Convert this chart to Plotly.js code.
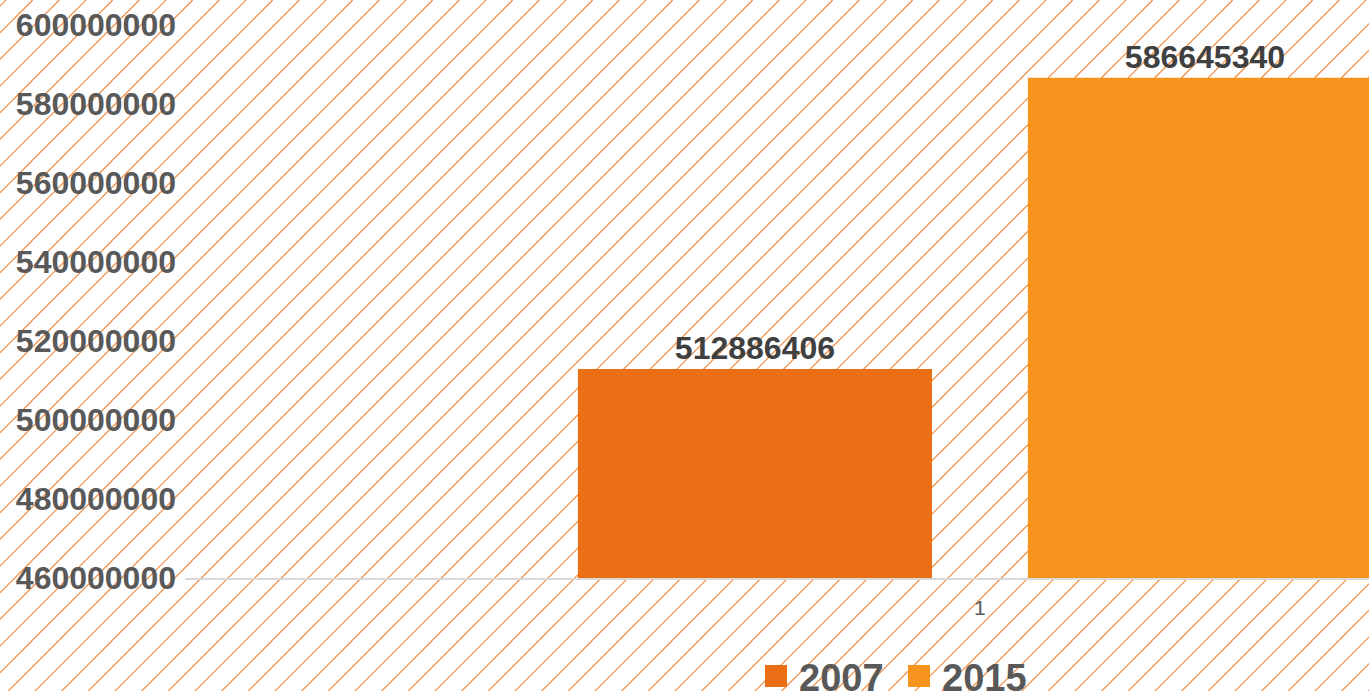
<!DOCTYPE html>
<html>
<head>
<meta charset="utf-8">
<script src="https://cdn.plot.ly/plotly-3.0.1.min.js"></script>
<style>
  html, body { margin: 0; padding: 0; width: 1369px; height: 691px; overflow: hidden; background-color: #ffffff; }
  #chart { width: 1369px; height: 691px; }
</style>
</head>
<body>
<div id="chart"></div>
<script>
// Data
const categories = ["1"];
const seriesNames = ["2007", "2015"];
const values2007 = [512886406];
const values2015 = [586645340];
const seriesColors = ["#EB7015", "#F7941D"];
const yTickValues = [460000000, 480000000, 500000000, 520000000, 540000000, 560000000, 580000000, 600000000];

const seriesValues = [values2007, values2015];

// Diagonal hatch background (decoration) as an SVG tile
(function () {
  const s = 80, step = 80 / 3;
  let lines = '';
  for (let k = -3; k <= 3; k++) {
    const x0 = k * step;
    lines += '<line x1="' + x0 + '" y1="' + s + '" x2="' + (x0 + s) + '" y2="0"/>';
  }
  const svg = '<svg xmlns="http://www.w3.org/2000/svg" width="' + s + '" height="' + s + '">' +
    '<g stroke="#EF8232" stroke-width="1.1" fill="none">' + lines + '</g></svg>';
  document.body.style.backgroundImage = 'url("data:image/svg+xml,' + encodeURIComponent(svg) + '")';
  document.body.style.backgroundPosition = '6px 0px';
})();

const FONT = 'Liberation Sans, Arial, sans-serif';

const traces = seriesNames.map((name, i) => ({
  type: 'bar',
  name: name,
  x: categories,
  y: seriesValues[i],
  marker: { color: seriesColors[i] },
  text: seriesValues[i].map(v => String(v)),
  textposition: 'outside',
  textfont: { family: FONT, size: 32, color: '#404040', weight: 'bold' },
  cliponaxis: false,
  constraintext: 'none',
  showlegend: false,
  hoverinfo: 'none'
}));

// Custom legend: coloured squares + series names
const legendSquareX = [0.4992, 0.6199];
const legendTextX = [0.5169, 0.6377];
const annotations = [];
seriesNames.forEach((name, i) => {
  annotations.push({
    xref: 'paper', yref: 'paper',
    x: legendSquareX[i], y: -0.1772,
    xanchor: 'center', yanchor: 'middle',
    showarrow: false,
    text: ' ',
    width: 22, height: 22, borderpad: 0, borderwidth: 0,
    bgcolor: seriesColors[i],
    font: { size: 10 }
  });
  annotations.push({
    xref: 'paper', yref: 'paper',
    x: legendTextX[i], y: -0.18,
    xanchor: 'left', yanchor: 'middle',
    showarrow: false,
    text: name,
    font: { family: FONT, size: 38, color: '#595959', weight: 'bold' }
  });
});

const layout = {
  width: 1369, height: 691,
  margin: { l: 185, r: 0, t: 25, b: 113 },
  paper_bgcolor: 'rgba(0,0,0,0)',
  plot_bgcolor: 'rgba(0,0,0,0)',
  barmode: 'group',
  bargap: 0.3,
  bargroupgap: 0.213,
  showlegend: false,
  xaxis: {
    type: 'category',
    range: [-0.6183, 0.3026],
    showline: true, linecolor: '#D9D9D9', linewidth: 2,
    showgrid: false, zeroline: false,
    ticks: '',
    ticklabelstandoff: 10,
    tickfont: { family: FONT, size: 21, color: '#595959' }
  },
  yaxis: {
    range: [460000000, 600000000],
    tickvals: yTickValues,
    ticktext: yTickValues.map(v => String(v)),
    showgrid: false, zeroline: false, showline: false,
    ticks: '',
    ticklabelstandoff: 8,
    tickfont: { family: FONT, size: 32, color: '#595959', weight: 'bold' }
  },
  annotations: annotations
};

Plotly.newPlot('chart', traces, layout, { displayModeBar: false, staticPlot: true });
</script>
</body>
</html>
